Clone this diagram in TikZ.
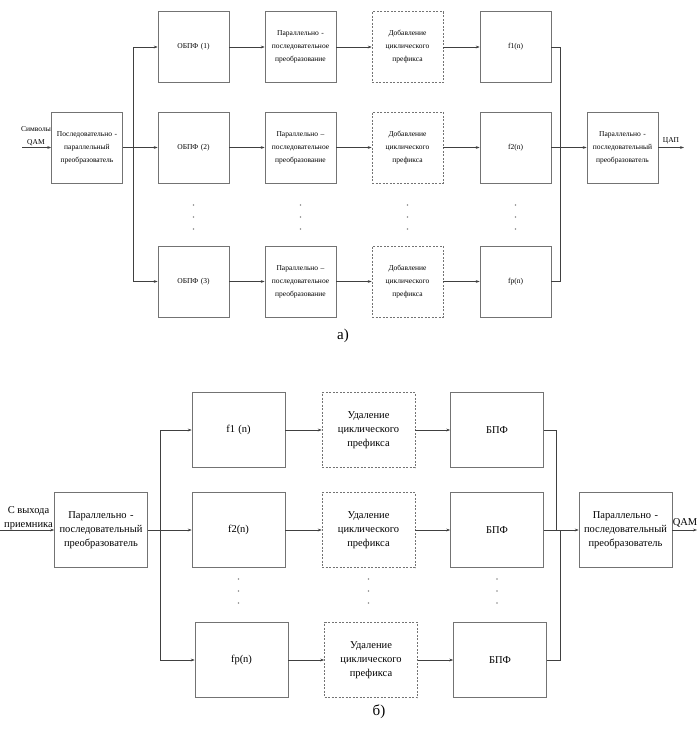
\documentclass[tikz,border=0pt]{standalone}
\usepackage{fontspec}
\setmainfont{Liberation Serif}
\usetikzlibrary{arrows.meta}
\begin{document}
\begin{tikzpicture}[x=1pt,y=-1pt,
  ln/.style={draw=black!75, line width=0.6pt},
  arr/.style={ln, -{Stealth[length=4pt,width=2.8pt]}},
  boxA/.style={draw=black!55, line width=0.6pt, fill=white, minimum width=71pt, minimum height=71pt, inner sep=0pt, text width=69pt, align=center, font=\fontsize{7.5}{13}\selectfont},
  dashA/.style={boxA, dash pattern=on 2pt off 1.5pt},
  boxB/.style={draw=black!55, line width=0.6pt, fill=white, minimum width=93pt, minimum height=75pt, inner sep=0pt, text width=91pt, align=center, font=\fontsize{10.5}{14}\selectfont},
  dashB/.style={boxB, dash pattern=on 2pt off 1.5pt},
  dotv/.style={circle, fill=black!45, inner sep=0.55pt},
  lbl/.style={inner sep=0pt, align=center}
]
\useasboundingbox (0,0) rectangle (698,731);

% ---------- part a ----------
\node[boxA] (inA) at (87,147.5) {Последовательно -\\параллельный\\преобразователь};
\coordinate (srcA) at (22,147.5);
\node[lbl, font=\fontsize{7.5}{13}\selectfont, anchor=south] (symA) at (36,146) {Символы\\QAM};
\draw[arr] (srcA) -- (inA.west);

\foreach \r/\y in {1/47,2/147.5,3/281.5}{
  \node[boxA] (ob\r) at (193.5,\y) {ОБПФ (\r)};
  \node[dashA] (dob\r) at (407.5,\y) {Добавление\\циклического\\префикса};
}
\node[boxA] (pp1) at (300.5,47) {Параллельно -\\последовательное\\преобразование};
\node[boxA] (pp2) at (300.5,147.5) {Параллельно –\\последовательное\\преобразование};
\node[boxA] (pp3) at (300.5,281.5) {Параллельно –\\последовательное\\преобразование};
\node[boxA] (fa1) at (515.5,47) {f1(n)};
\node[boxA] (fa2) at (515.5,147.5) {f2(n)};
\node[boxA] (fa3) at (515.5,281.5) {fp(n)};
\node[boxA] (outA) at (622.5,147.5) {Параллельно -\\последовательный\\преобразователь};

\coordinate (sa) at (133,147.5);
\draw[ln] (inA.east) -- (sa);
\draw[arr] (sa) |- (ob1.west);
\draw[arr] (sa) -- (ob2.west);
\draw[arr] (sa) |- (ob3.west);
\foreach \r in {1,2,3}{
  \draw[arr] (ob\r) -- (pp\r);
  \draw[arr] (pp\r) -- (dob\r);
  \draw[arr] (dob\r) -- (fa\r);
}
\coordinate (ca) at (560,147.5);
\draw[ln] (fa1.east) -| (ca);
\draw[ln] (fa3.east) -| (ca);
\draw[arr] (fa2.east) -- (outA.west);
\coordinate (dacA) at (684,147.5);
\draw[arr] (outA.east) -- (dacA);
\node[lbl, font=\fontsize{7.5}{9}\selectfont, anchor=south] (dac) at (671,144) {ЦАП};

\foreach \x in {193.5,300.5,407.5,515.5}{
  \foreach \yy in {205,217,229}{ \node[dotv] at (\x,\yy) {}; }
}
\node[lbl, font=\fontsize{15}{17}\selectfont] (capA) at (343,336) {а)};

% ---------- part b ----------
\node[boxB] (inB) at (101,530) {Параллельно -\\последовательный\\преобразователь};
\coordinate (srcB) at (0,530);
\node[lbl, font=\fontsize{10.5}{14}\selectfont, anchor=south east] (fromB) at (53,530) {С выхода\\приемника};
\draw[arr] (srcB) -- (inB.west);

\foreach \r/\y in {1/430,2/530}{
  \node[dashB] (ud\r) at (368.5,\y) {Удаление\\циклического\\префикса};
  \node[boxB] (fft\r) at (497,\y) {БПФ};
}
\node[dashB] (ud3) at (371,660) {Удаление\\циклического\\префикса};
\node[boxB] (fft3) at (500,660) {БПФ};
\node[boxB] (fb1) at (238.5,430) {f1 (n)};
\node[boxB] (fb2) at (238.5,530) {f2(n)};
\node[boxB] (fb3) at (241.5,660) {fp(n)};
\node[boxB] (outB) at (625.5,530) {Параллельно -\\последовательный\\преобразователь};

\coordinate (sb) at (160,530);
\draw[ln] (inB.east) -- (sb);
\draw[arr] (sb) |- (fb1.west);
\draw[arr] (sb) -- (fb2.west);
\draw[arr] (sb) |- (fb3.west);
\foreach \r in {1,2,3}{
  \draw[arr] (fb\r) -- (ud\r);
  \draw[arr] (ud\r) -- (fft\r);
}
\coordinate (cb1) at (556,530);
\coordinate (cb3) at (560,530);
\draw[ln] (fft1.east) -| (cb1);
\draw[ln] (fft3.east) -| (cb3);
\draw[arr] (fft2.east) -- (outB.west);
\coordinate (qamB) at (697,530);
\draw[arr] (outB.east) -- (qamB);
\node[lbl, font=\fontsize{10.5}{12}\selectfont, anchor=south] (qam) at (685,527) {QAM};

\foreach \x in {238.5,368.5,497}{
  \foreach \yy in {579,591,603}{ \node[dotv] at (\x,\yy) {}; }
}
\node[lbl, font=\fontsize{15}{17}\selectfont] (capB) at (379,712) {б)};
\end{tikzpicture}
\end{document}
